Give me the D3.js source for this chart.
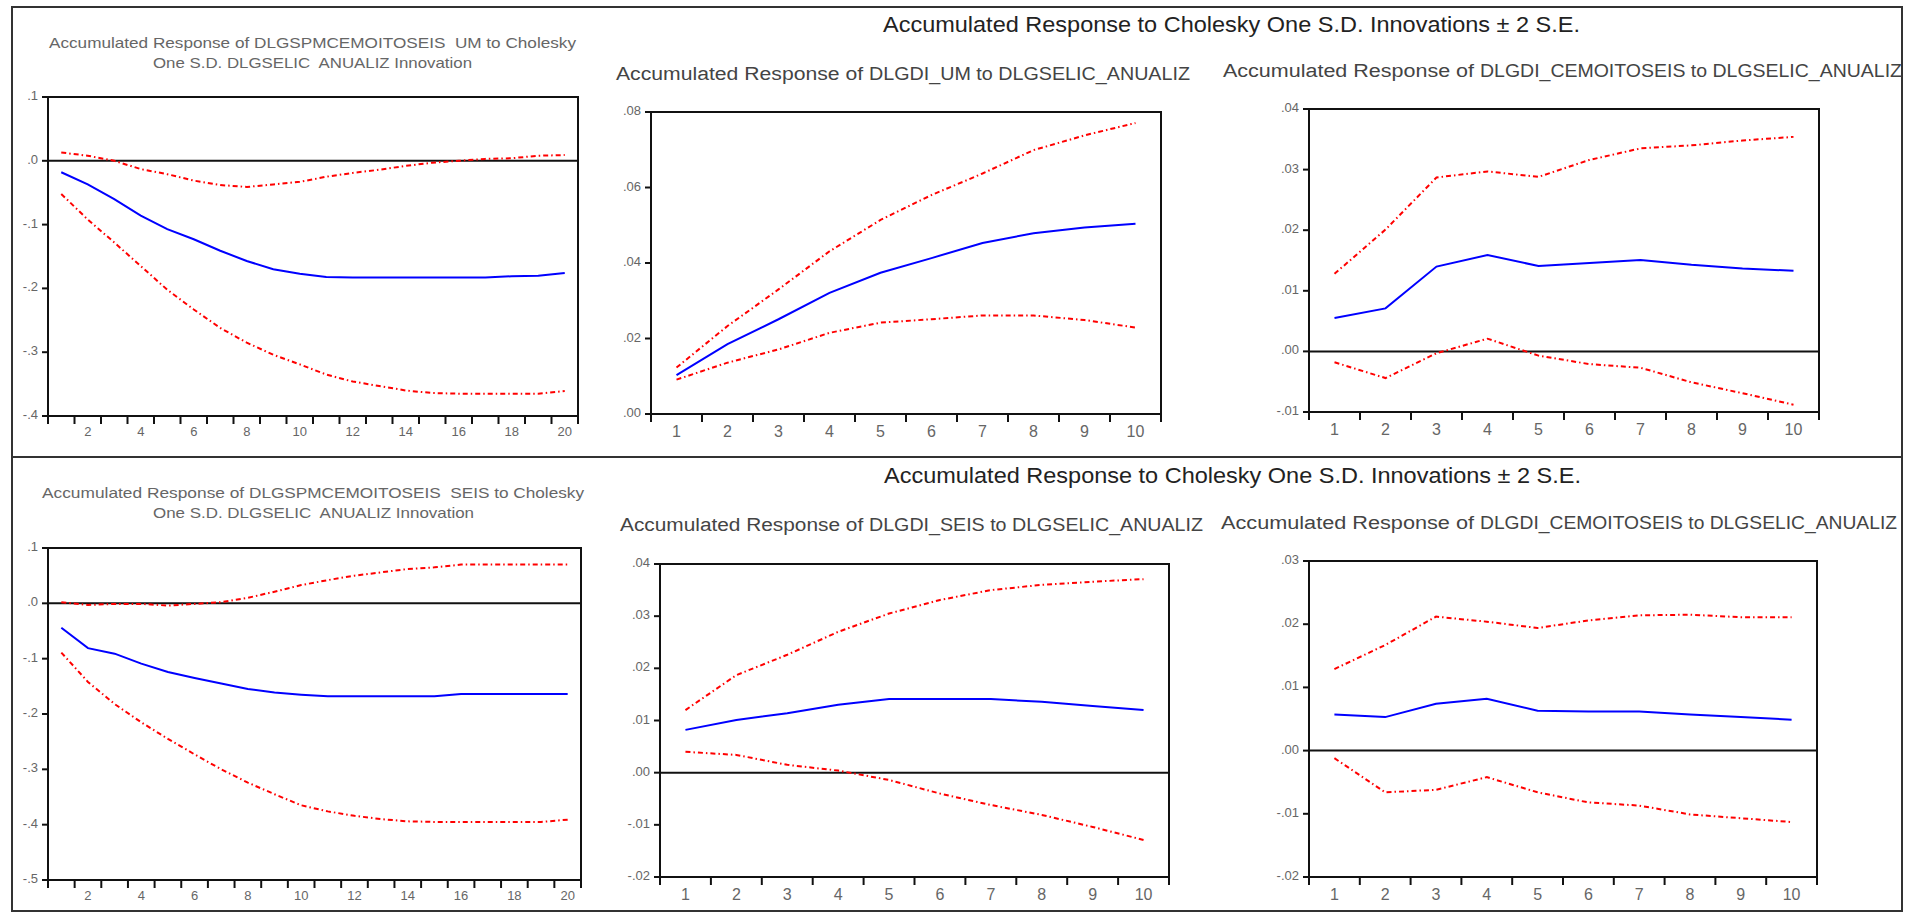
<!DOCTYPE html>
<html>
<head>
  <meta charset="utf-8">
  <title>Accumulated Response to Cholesky One S.D. Innovations</title>
  <script src="https://d3js.org/d3.v7.min.js"></script>
  <style>
    body { margin: 0; background: #fff; }
    text { font-family: "Liberation Sans", Arial, sans-serif; }
  </style>
</head>
<body>
<svg id="chart" width="1921" height="916"></svg>
<script>

// ---- data ----
var periods20 = [1,2,3,4,5,6,7,8,9,10,11,12,13,14,15,16,17,18,19,20];
var periods10 = [1,2,3,4,5,6,7,8,9,10];

// row 1
var umResp  = [-0.018,-0.037,-0.060,-0.086,-0.107,-0.123,-0.141,-0.157,-0.170,-0.177,-0.182,-0.183,-0.183,-0.183,-0.183,-0.183,-0.183,-0.181,-0.180,-0.176];
var umUpper = [0.013,0.008,0.000,-0.013,-0.021,-0.031,-0.038,-0.041,-0.037,-0.033,-0.025,-0.019,-0.014,-0.008,-0.003,0.000,0.003,0.004,0.008,0.009];
var umLower = [-0.052,-0.092,-0.128,-0.165,-0.202,-0.233,-0.262,-0.285,-0.304,-0.319,-0.335,-0.346,-0.353,-0.360,-0.364,-0.365,-0.365,-0.365,-0.365,-0.361];

var diUmResp  = [0.0103,0.0185,0.0251,0.0321,0.0374,0.0413,0.0453,0.0479,0.0494,0.0504];
var diUmUpper = [0.0123,0.0233,0.0330,0.0431,0.0514,0.0580,0.0637,0.0699,0.0738,0.0771];
var diUmLower = [0.0091,0.0136,0.0171,0.0215,0.0242,0.0251,0.0261,0.0261,0.0249,0.0229];

var cemResp  = [0.0055,0.0071,0.0140,0.0159,0.0141,0.0146,0.0151,0.0143,0.0137,0.0133];
var cemUpper = [0.0128,0.0201,0.0287,0.0297,0.0288,0.0316,0.0335,0.0340,0.0348,0.0354];
var cemLower = [-0.0018,-0.0044,-0.0003,0.0021,-0.0007,-0.0021,-0.0027,-0.0051,-0.0069,-0.0088];

// row 2
var seisResp  = [-0.044,-0.081,-0.091,-0.109,-0.124,-0.135,-0.145,-0.155,-0.161,-0.165,-0.168,-0.168,-0.168,-0.168,-0.168,-0.164,-0.164,-0.164,-0.164,-0.164];
var seisUpper = [0.002,-0.003,-0.001,-0.001,-0.004,-0.001,0.002,0.010,0.021,0.033,0.042,0.050,0.056,0.062,0.065,0.070,0.070,0.070,0.070,0.070];
var seisLower = [-0.089,-0.142,-0.182,-0.215,-0.245,-0.273,-0.300,-0.324,-0.345,-0.365,-0.376,-0.384,-0.390,-0.394,-0.395,-0.395,-0.395,-0.395,-0.395,-0.391];

var diSeisResp  = [0.0082,0.0101,0.0114,0.0130,0.0141,0.0141,0.0141,0.0136,0.0128,0.0120];
var diSeisUpper = [0.0120,0.0187,0.0226,0.0270,0.0305,0.0331,0.0350,0.0360,0.0366,0.0371];
var diSeisLower = [0.0040,0.0034,0.0015,0.0004,-0.0014,-0.0040,-0.0062,-0.0081,-0.0104,-0.0129];

var cem2Resp  = [0.0057,0.0053,0.0074,0.0082,0.0063,0.0062,0.0062,0.0057,0.0053,0.0049];
var cem2Upper = [0.0129,0.0167,0.0212,0.0204,0.0194,0.0206,0.0214,0.0215,0.0211,0.0211];
var cem2Lower = [-0.0012,-0.0066,-0.0062,-0.0042,-0.0066,-0.0082,-0.0087,-0.0101,-0.0107,-0.0113];

// y tick values and their labels
var ticksA = [0.1, 0, -0.1, -0.2, -0.3, -0.4];
var labelsA = [".1", ".0", "-.1", "-.2", "-.3", "-.4"];
var ticksB = [0.08, 0.06, 0.04, 0.02, 0];
var labelsB = [".08", ".06", ".04", ".02", ".00"];
var ticksC = [0.04, 0.03, 0.02, 0.01, 0, -0.01];
var labelsC = [".04", ".03", ".02", ".01", ".00", "-.01"];
var ticksD = [0.1, 0, -0.1, -0.2, -0.3, -0.4, -0.5];
var labelsD = [".1", ".0", "-.1", "-.2", "-.3", "-.4", "-.5"];
var ticksE = [0.04, 0.03, 0.02, 0.01, 0, -0.01, -0.02];
var labelsE = [".04", ".03", ".02", ".01", ".00", "-.01", "-.02"];
var ticksF = [0.03, 0.02, 0.01, 0, -0.01, -0.02];
var labelsF = [".03", ".02", ".01", ".00", "-.01", "-.02"];

var mainTitle = "Accumulated Response to Cholesky One S.D. Innovations \u00b1 2 S.E.";

// ---- layout ----
var svg = d3.select("#chart");

// outer frame + row divider
svg.append("rect")
    .attr("x", 12).attr("y", 7).attr("width", 1890).attr("height", 904)
    .attr("fill", "none").attr("stroke", "#333").attr("stroke-width", 2);
svg.append("line")
    .attr("x1", 12).attr("x2", 1902).attr("y1", 457).attr("y2", 457)
    .attr("stroke", "#333").attr("stroke-width", 2);

// big row titles
[{y: 32, x: 883}, {y: 483, x: 884}].forEach(function(t) {
  svg.append("text")
      .attr("x", t.x).attr("y", t.y)
      .attr("font-size", "22px").attr("fill", "#222")
      .attr("textLength", 697).attr("lengthAdjust", "spacingAndGlyphs")
      .text(mainTitle);
});

// title pieces: [text, x start, width]
var panels = [
  { x0: 48, x1: 578, y0: 97, y1: 416, domain: [-0.4, 0.1], periods: periods20,
    ticks: ticksA, labels: labelsA, resp: umResp, upper: umUpper, lower: umLower,
    titles: [
      {y: 48, segs: [["Accumulated Response of ", 49, 205], ["DLGSPMCEMOITOSEIS  UM to Cholesky", 254, 322]]},
      {y: 68, segs: [["One S.D. DLGSELIC  ANUALIZ Innovation", 153, 319]]}
    ], small: true },
  { x0: 651, x1: 1161, y0: 112, y1: 414, domain: [0, 0.08], periods: periods10,
    ticks: ticksB, labels: labelsB, resp: diUmResp, upper: diUmUpper, lower: diUmLower,
    titles: [{y: 80, segs: [["Accumulated Response of ", 616, 253], ["DLGDI_UM to DLGSELIC_ANUALIZ", 869, 321]]}] },
  { x0: 1309, x1: 1819, y0: 109, y1: 412, domain: [-0.01, 0.04], periods: periods10,
    ticks: ticksC, labels: labelsC, resp: cemResp, upper: cemUpper, lower: cemLower,
    titles: [{y: 77, segs: [["Accumulated Response of ", 1223, 257], ["DLGDI_CEMOITOSEIS to DLGSELIC_ANUALIZ", 1480, 422]]}] },
  { x0: 48, x1: 581, y0: 548, y1: 880, domain: [-0.5, 0.1], periods: periods20,
    ticks: ticksD, labels: labelsD, resp: seisResp, upper: seisUpper, lower: seisLower,
    titles: [
      {y: 498, segs: [["Accumulated Response of ", 42, 207], ["DLGSPMCEMOITOSEIS  SEIS to Cholesky", 249, 335]]},
      {y: 518, segs: [["One S.D. DLGSELIC  ANUALIZ Innovation", 153, 321]]}
    ], small: true },
  { x0: 660, x1: 1169, y0: 564, y1: 877, domain: [-0.02, 0.04], periods: periods10,
    ticks: ticksE, labels: labelsE, resp: diSeisResp, upper: diSeisUpper, lower: diSeisLower,
    titles: [{y: 531, segs: [["Accumulated Response of ", 620, 249], ["DLGDI_SEIS to DLGSELIC_ANUALIZ", 869, 334]]}] },
  { x0: 1309, x1: 1817, y0: 561, y1: 877, domain: [-0.02, 0.03], periods: periods10,
    ticks: ticksF, labels: labelsF, resp: cem2Resp, upper: cem2Upper, lower: cem2Lower,
    titles: [{y: 529, segs: [["Accumulated Response of ", 1221, 259], ["DLGDI_CEMOITOSEIS to DLGSELIC_ANUALIZ", 1480, 417]]}] }
];

panels.forEach(function(p) {
  var g = svg.append("g");

  var x = d3.scaleBand()
      .domain(p.periods)
      .range([p.x0, p.x1]);
  var y = d3.scaleLinear()
      .domain(p.domain)
      .range([p.y1, p.y0]);

  // panel titles
  p.titles.forEach(function(t) {
    var tx = g.append("text")
        .attr("y", t.y)
        .attr("font-size", p.small ? "15px" : "18px")
        .attr("fill", p.small ? "#666" : "#444")
        .style("white-space", "pre");
    t.segs.forEach(function(s) {
      tx.append("tspan")
          .attr("x", s[1])
          .attr("textLength", s[2]).attr("lengthAdjust", "spacingAndGlyphs")
          .text(s[0]);
    });
  });

  // y ticks
  g.selectAll(".ytick")
      .data(p.ticks)
    .enter().append("line")
      .attr("x1", p.x0 - 6).attr("x2", p.x0)
      .attr("y1", function(d) { return y(d); })
      .attr("y2", function(d) { return y(d); })
      .attr("stroke", "#111").attr("stroke-width", 2);
  g.selectAll(".ylab")
      .data(p.ticks)
    .enter().append("text")
      .attr("x", p.x0 - 10)
      .attr("y", function(d) { return y(d) + 3; })
      .attr("text-anchor", "end")
      .attr("font-size", "13px").attr("fill", "#666")
      .text(function(d, i) { return p.labels[i]; });

  // x ticks at band edges
  var edges = p.periods.map(function(d) { return x(d); }).concat([p.x1]);
  g.selectAll(".xtick")
      .data(edges)
    .enter().append("line")
      .attr("x1", function(d) { return d; })
      .attr("x2", function(d) { return d; })
      .attr("y1", p.y1).attr("y2", p.y1 + 8)
      .attr("stroke", "#111").attr("stroke-width", 2);
  var shown = p.periods.length > 10 ? p.periods.filter(function(d) { return d % 2 === 0; }) : p.periods;
  g.selectAll(".xlab")
      .data(shown)
    .enter().append("text")
      .attr("x", function(d) { return x(d) + x.bandwidth() / 2; })
      .attr("y", p.y1 + (p.small ? 20 : 23))
      .attr("text-anchor", "middle")
      .attr("font-size", p.small ? "13px" : "16px").attr("fill", "#666")
      .text(function(d) { return d; });

  // zero line
  if (p.domain[0] < 0 && p.domain[1] > 0) {
    g.append("line")
        .attr("x1", p.x0).attr("x2", p.x1)
        .attr("y1", y(0)).attr("y2", y(0))
        .attr("stroke", "#111").attr("stroke-width", 2);
  }

  var line = d3.line()
      .x(function(d, i) { return x(p.periods[i]) + x.bandwidth() / 2; })
      .y(function(d) { return y(d); });

  g.append("path").datum(p.upper)
      .attr("d", line).attr("fill", "none")
      .attr("stroke", "#ff0000").attr("stroke-width", 2)
      .attr("stroke-dasharray", "5,3,1.5,3");
  g.append("path").datum(p.lower)
      .attr("d", line).attr("fill", "none")
      .attr("stroke", "#ff0000").attr("stroke-width", 2)
      .attr("stroke-dasharray", "5,3,1.5,3");
  g.append("path").datum(p.resp)
      .attr("d", line).attr("fill", "none")
      .attr("stroke", "#0000ff").attr("stroke-width", 2);

  // plot frame
  g.append("rect")
      .attr("x", p.x0).attr("y", p.y0)
      .attr("width", p.x1 - p.x0).attr("height", p.y1 - p.y0)
      .attr("fill", "none").attr("stroke", "#111").attr("stroke-width", 2);
});

</script>
</body>
</html>
